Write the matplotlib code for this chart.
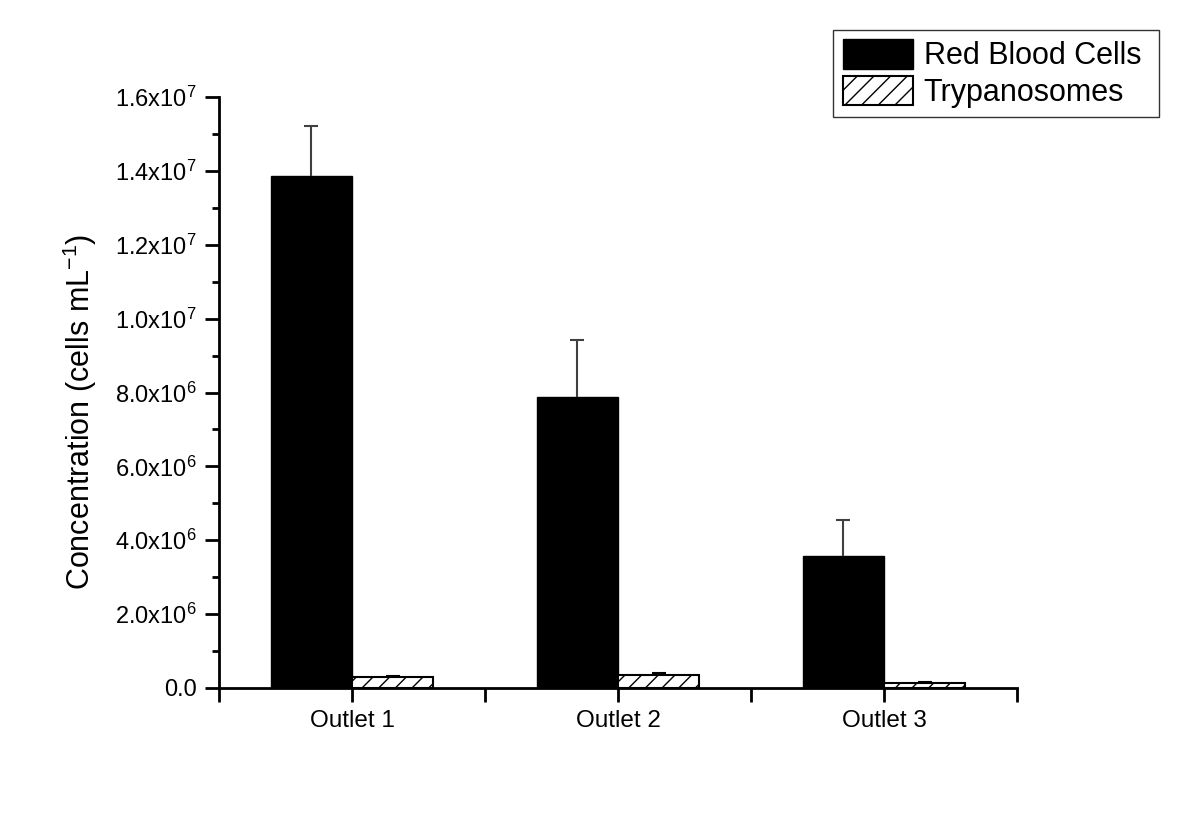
import numpy as np
import matplotlib
matplotlib.use("Agg")
import matplotlib.pyplot as plt

plt.rcParams['font.family'] = ['Liberation Sans', 'DejaVu Sans']
plt.rcParams['mathtext.fontset'] = 'custom'
plt.rcParams['mathtext.rm'] = 'Liberation Sans'
plt.rcParams['hatch.linewidth'] = 1.0

# data
outlets = ['Outlet 1', 'Outlet 2', 'Outlet 3']
rbc = [1.385e7, 7.87e6, 3.57e6]
rbc_err = [1.37e6, 1.55e6, 0.97e6]
tryp = [0.30e6, 0.36e6, 0.14e6]
tryp_err = [0.03e6, 0.05e6, 0.03e6]

yticks = [0, 2e6, 4e6, 6e6, 8e6, 1.0e7, 1.2e7, 1.4e7, 1.6e7]
ytick_labels = ['0.0', r'$\mathregular{2.0x10^{6}}$', r'$\mathregular{4.0x10^{6}}$',
                r'$\mathregular{6.0x10^{6}}$', r'$\mathregular{8.0x10^{6}}$',
                r'$\mathregular{1.0x10^{7}}$', r'$\mathregular{1.2x10^{7}}$',
                r'$\mathregular{1.4x10^{7}}$', r'$\mathregular{1.6x10^{7}}$']

fig = plt.figure(figsize=(11.77, 8.14), dpi=100)
ax = fig.add_axes([0.1861, 0.1548, 0.6780, 0.7260])

x = np.arange(1, len(outlets) + 1)
w = 0.305

b1 = ax.bar(x - w / 2, rbc, w, color='black', edgecolor='black', linewidth=1.0,
            label='Red Blood Cells ', zorder=2)
b2 = ax.bar(x + w / 2, tryp, w, color='white', edgecolor='black', linewidth=1.5,
            hatch='//', label='Trypanosomes', zorder=2)


def upper_errbars(xs, ys, errs, color):
    # Origin-style: only the upper half of the error bar is drawn
    zeros = np.zeros(len(ys))
    _, caps, _ = ax.errorbar(xs, ys, yerr=[zeros, errs], fmt='none', ecolor=color,
                             elinewidth=1.5, capsize=4.7, capthick=1.5, zorder=3)
    for c in caps:
        if np.allclose(c.get_ydata(), ys):
            c.set_visible(False)


upper_errbars(x - w / 2, rbc, rbc_err, '#404040')
upper_errbars(x + w / 2, tryp, tryp_err, 'black')

ax.set_xlim(0.5, 3.5)
ax.set_ylim(0, 1.6e7)
ax.set_xticks(x)
ax.set_xticklabels(outlets)
ax.set_xticks(np.arange(0.5, 3.6, 1.0), minor=True)
ax.set_yticks(yticks)
ax.set_yticklabels(ytick_labels)
ax.set_yticks(np.arange(1e6, 1.6e7, 2e6), minor=True)

for s in ['top', 'right']:
    ax.spines[s].set_visible(False)
for s in ['left', 'bottom']:
    ax.spines[s].set_linewidth(2.0)

ax.tick_params(axis='both', which='major', direction='out', length=10, width=2.0,
               labelsize=17.5, pad=6)
ax.tick_params(axis='x', which='minor', direction='out', length=10, width=2.0)
ax.tick_params(axis='y', which='minor', direction='out', length=5, width=2.0)
ax.tick_params(axis='y', labelsize=17)

ax.set_ylabel(r'Concentration (cells mL$^{\mathregular{-1}}$)', fontsize=22)
ax.yaxis.set_label_coords(-0.150, 0.467)

leg = fig.legend(handles=[b1, b2], loc='upper right',
                 bbox_to_anchor=(0.9847, 0.9631), fontsize=22, frameon=True,
                 fancybox=False, handlelength=2.3, handleheight=1.1,
                 labelspacing=0.14, borderpad=0.3, handletextpad=0.36,
                 borderaxespad=0)
leg.get_frame().set_edgecolor('black')
leg.get_frame().set_linewidth(1.0)

fig.savefig('out.png', dpi=100, facecolor='white')
